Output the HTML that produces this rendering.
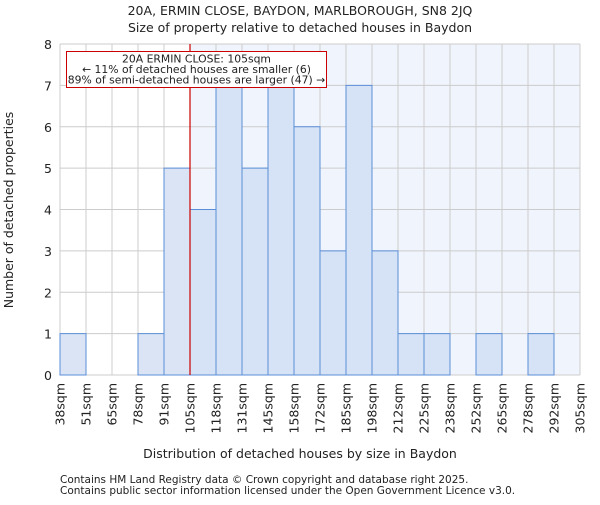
<!DOCTYPE html>
<html><head><meta charset="utf-8">
<style>
body{margin:0;background:#fff;}
svg text{font-family:"DejaVu Sans","Liberation Sans",sans-serif;fill:#222;}
</style></head>
<body>
<svg id="chart" width="600" height="500" xmlns="http://www.w3.org/2000/svg">
<text x="300" y="15" text-anchor="middle" font-size="12.5">20A, ERMIN CLOSE, BAYDON, MARLBOROUGH, SN8 2JQ</text>
<text x="300" y="32" text-anchor="middle" font-size="12.5">Size of property relative to detached houses in Baydon</text>
<g id="plot"></g>
<text x="300" y="458" text-anchor="middle" font-size="12.5">Distribution of detached houses by size in Baydon</text>
<text transform="translate(13,210) rotate(-90)" text-anchor="middle" font-size="12.5">Number of detached properties</text>
<text x="60" y="483" font-size="10.5">Contains HM Land Registry data © Crown copyright and database right 2025.</text>
<text x="60" y="494" font-size="10.5">Contains public sector information licensed under the Open Government Licence v3.0.</text>
</svg>
<script>
const categories=["38sqm","51sqm","65sqm","78sqm","91sqm","105sqm","118sqm","131sqm","145sqm","158sqm","172sqm","185sqm","198sqm","212sqm","225sqm","238sqm","252sqm","265sqm","278sqm","292sqm","305sqm"];
const counts=[1,0,0,1,5,4,7,5,7,6,3,7,3,1,1,0,1,0,1,0];
const yTicks=[0,1,2,3,4,5,6,7,8];
const markerIndex=5;
const NS="http://www.w3.org/2000/svg";
const X0=60,X1=580,Y0=375,Y1=44,nb=counts.length;
const bw=(X1-X0)/nb;
const xs=i=>X0+i*bw;
const ys=v=>Y0-(v/8)*(Y0-Y1);
const g=document.getElementById('plot');
function mk(t,a){const e=document.createElementNS(NS,t);for(const k in a)e.setAttribute(k,a[k]);g.appendChild(e);return e;}
let bg=mk('rect',{x:xs(markerIndex),y:Y1,width:X1-xs(markerIndex),height:Y0-Y1,fill:'#f0f4fc'});


yTicks.forEach(t=>{
 let l=mk('line',{x1:X0,x2:X1,y1:ys(t),y2:ys(t),stroke:'#cccccc','stroke-width':1});
 
 
 let tx=mk('text',{x:X0-8,y:ys(t)+5,'text-anchor':'end','font-size':'12.5'});tx.textContent=t;
 
 
});
categories.forEach((c,i)=>{
 let l=mk('line',{x1:xs(i),x2:xs(i),y1:Y1,y2:Y0,stroke:'#cccccc','stroke-width':1});
 
 
 let tx=mk('text',{transform:`translate(${xs(i)+4.5},383) rotate(-90)`,'text-anchor':'end','font-size':'12.5'});tx.textContent=c;
 
 
});
counts.forEach((v,i)=>{
 if(v<=0)return;
 let r=mk('rect',{x:xs(i),y:ys(v),width:bw,height:Y0-ys(v),fill:i<markerIndex?'#dae4f4':'#d6e2f5',stroke:'#5b8ed8','stroke-width':1});
 
 
});
let ml=mk('line',{x1:xs(markerIndex),x2:xs(markerIndex),y1:Y1,y2:Y0,stroke:'#cc0000','stroke-width':1.2});


let box=mk('rect',{x:66.5,y:51.5,width:260,height:36,fill:'#fff',stroke:'#cc0000','stroke-width':1});


["20A ERMIN CLOSE: 105sqm","← 11% of detached houses are smaller (6)","89% of semi-detached houses are larger (47) →"].forEach((s,k)=>{
 let t=mk('text',{x:196.5,y:62.5+k*10.5,'text-anchor':'middle','font-size':'10.8'});t.textContent=s;
 
 
});
</script>
</body></html>
